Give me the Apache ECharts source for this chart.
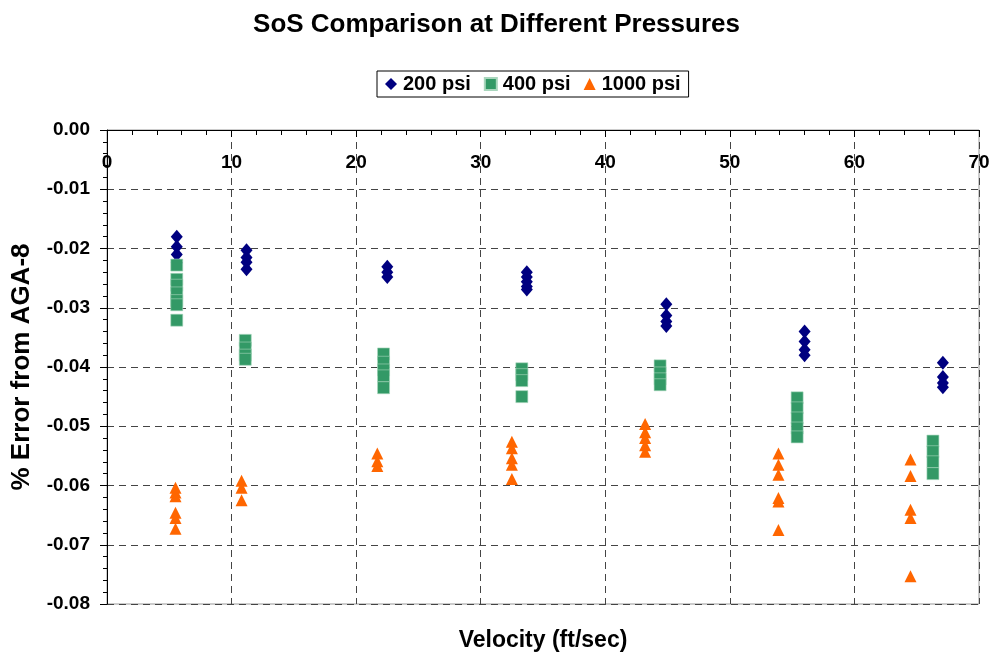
<!DOCTYPE html>
<html>
<head>
<meta charset="utf-8">
<script src="https://cdn.jsdelivr.net/npm/echarts@6/dist/echarts.min.js"></script>
<style>html,body{margin:0;padding:0;background:#fff;}#c{width:993px;height:656px;}</style>
</head>
<body>
<div id="c"></div>
<script>
const seriesNames = ['200 psi', '400 psi', '1000 psi'];
const xTickLabels = ['0','10','20','30','40','50','60','70'];

const psi200 = [
  [5.6,-0.0180],[5.6,-0.0197],[5.6,-0.0210],[5.6,-0.0224],
  [11.2,-0.0203],[11.2,-0.0215],[11.2,-0.0223],[11.2,-0.0235],
  [22.5,-0.0231],[22.5,-0.0240],[22.5,-0.0248],
  [33.7,-0.0240],[33.7,-0.0248],[33.7,-0.0256],[33.7,-0.0264],[33.7,-0.0269],
  [44.9,-0.0294],[44.9,-0.0313],[44.9,-0.0323],[44.9,-0.0331],
  [56.0,-0.0340],[56.0,-0.0357],[56.0,-0.0371],[56.0,-0.0380],
  [67.1,-0.0393],[67.1,-0.0417],[67.1,-0.0427],[67.1,-0.0434]
];
const psi400 = [
  [5.6,-0.0228],[5.6,-0.0252],[5.6,-0.0262],[5.6,-0.0275],[5.6,-0.0288],[5.6,-0.0295],[5.6,-0.0321],
  [11.1,-0.0355],[11.1,-0.0368],[11.1,-0.0380],[11.1,-0.0387],
  [22.2,-0.0378],[22.2,-0.0392],[22.2,-0.0405],[22.2,-0.0415],[22.2,-0.0435],
  [33.3,-0.0403],[33.3,-0.0413],[33.3,-0.0423],[33.3,-0.0450],
  [44.4,-0.0398],[44.4,-0.0410],[44.4,-0.0420],[44.4,-0.0430],
  [55.4,-0.0452],[55.4,-0.0469],[55.4,-0.0486],[55.4,-0.0503],[55.4,-0.0518],
  [66.3,-0.0525],[66.3,-0.0543],[66.3,-0.0560],[66.3,-0.0580]
];
const psi1000 = [
  [5.5,-0.0604],[5.5,-0.0612],[5.5,-0.0618],[5.5,-0.0646],[5.5,-0.0655],[5.5,-0.0673],
  [10.8,-0.0592],[10.8,-0.0604],[10.8,-0.0625],
  [21.7,-0.0546],[21.7,-0.0559],[21.7,-0.0567],
  [32.5,-0.0526],[32.5,-0.0537],[32.5,-0.0554],[32.5,-0.0565],[32.5,-0.0589],
  [43.2,-0.0496],[43.2,-0.0510],[43.2,-0.0520],[43.2,-0.0532],[43.2,-0.0543],
  [53.9,-0.0546],[53.9,-0.0565],[53.9,-0.0582],[53.9,-0.0621],[53.9,-0.0627],[53.9,-0.0675],
  [64.5,-0.0556],[64.5,-0.0584],[64.5,-0.0641],[64.5,-0.0655],[64.5,-0.0753]
];

const FONT = '"Liberation Sans", Arial, sans-serif';
const chart = echarts.init(document.getElementById('c'), null, {renderer: 'canvas'});
const gridLine = {show: true, lineStyle: {color: '#444', width: 1, type: [7, 5]}};

chart.setOption({
  backgroundColor: '#fff',
  animation: false,
  title: {
    text: 'SoS Comparison at Different Pressures',
    left: 'center', top: 7,
    textStyle: {fontFamily: FONT, fontWeight: 'bold', fontSize: 26, color: '#000'}
  },
  legend: {
    data: seriesNames,
    top: 71, left: 377,
    padding: [3, 8, 3, 8],
    borderColor: '#000', borderWidth: 1, borderRadius: 0,
    itemGap: 13, itemWidth: 12, itemHeight: 12,
    textStyle: {fontFamily: FONT, fontWeight: 'bold', fontSize: 20, color: '#000', padding: [0,0,0,1]}
  },
  graphic: [{
    type: 'text', x: 543, y: 629,
    style: {text: 'Velocity (ft/sec)', align: 'center', font: 'bold 23px ' + FONT, fill: '#000'}
  }],
  grid: {left: 107, right: 14, top: 130, bottom: 52, show: true, borderColor: '#999', borderWidth: 1, backgroundColor: 'transparent'},
  xAxis: {
    type: 'value', position: 'top', min: 0, max: 70, interval: 10,
    axisLine: {show: true, onZero: false, lineStyle: {color: '#000', width: 1}},
    axisTick: {show: true, inside: true, length: 7, lineStyle: {color: '#000'}},
    minorTick: {show: true, splitNumber: 5, length: 5, lineStyle: {color: '#000'}},
    axisLabel: {inside: true, margin: 23, fontFamily: FONT, fontWeight: 'bold', fontSize: 19, color: '#000',
      formatter: v => xTickLabels[Math.round(v / 10)]},
    splitLine: gridLine
  },
  yAxis: {
    type: 'value', min: -0.08, max: 0, interval: 0.01,
    name: '% Error from AGA-8', nameLocation: 'middle', nameGap: 72, nameRotate: 90,
    nameTextStyle: {fontFamily: FONT, fontWeight: 'bold', fontSize: 26, color: '#000'},
    axisLine: {show: true, lineStyle: {color: '#000', width: 1}},
    axisTick: {show: true, inside: false, length: 7, lineStyle: {color: '#000'}},
    minorTick: {show: true, splitNumber: 5, length: 4, lineStyle: {color: '#000'}},
    axisLabel: {margin: 17, fontFamily: FONT, fontWeight: 'bold', fontSize: 19, color: '#000',
      formatter: v => (Math.abs(v) < 1e-9 ? 0 : v).toFixed(2)},
    splitLine: gridLine
  },
  series: [
    {name: seriesNames[0], type: 'scatter', data: psi200, symbol: 'diamond', symbolSize: [12, 14],
      itemStyle: {color: '#000080', opacity: 1}},
    {name: seriesNames[1], type: 'scatter', data: psi400, symbol: 'rect', symbolSize: [12, 12],
      itemStyle: {color: '#339966', borderColor: '#a9d6bd', borderWidth: 0.6, opacity: 1}},
    {name: seriesNames[2], type: 'scatter', data: psi1000, symbol: 'triangle', symbolSize: [12, 12],
      itemStyle: {color: '#FF6600', opacity: 1}}
  ]
});
</script>
</body>
</html>
